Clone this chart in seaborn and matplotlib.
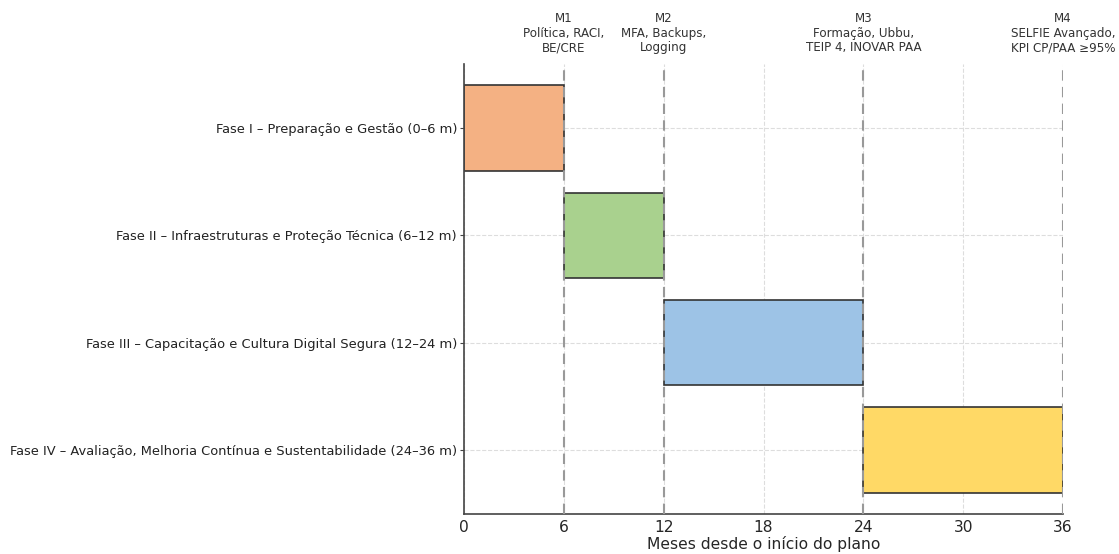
import seaborn as sns
import matplotlib.pyplot as plt
import matplotlib.transforms as transforms


phases = [
    'Fase I – Preparação e Gestão (0–6 m)',
    'Fase II – Infraestruturas e Proteção Técnica (6–12 m)',
    'Fase III – Capacitação e Cultura Digital Segura (12–24 m)',
    'Fase IV – Avaliação, Melhoria Contínua e Sustentabilidade (24–36 m)',
]
starts = [0, 6, 12, 24]
durations = [6, 6, 12, 12]
colors = ['#F4B183', '#A9D18E', '#9DC3E6', '#FFD966']

milestone_months = [6, 12, 24, 36]
milestone_labels = [
    'M1\nPolítica, RACI,\nBE/CRE',
    'M2\nMFA, Backups,\nLogging',
    'M3\nFormação, Ubbu,\nTEIP 4, INOVAR PAA',
    'M4\nSELFIE Avançado,\nKPI CP/PAA ≥95%',
]
xticks = [0, 6, 12, 18, 24, 30, 36]


sns.set_style('white')
plt.rcParams['font.family'] = ['DejaVu Sans']

f = plt.figure(figsize=(11.19, 5.54), dpi=100)
ax = f.add_axes([0.4147, 0.0722, 0.5353, 0.8123])

ypos = list(range(len(phases)))
ax.barh(ypos, durations, left=starts, height=0.8, color=colors,
        edgecolor='#333333', linewidth=1.2, zorder=2)

ax.set_ylim(3.6, -0.6)
ax.set_xlim(0, 36)
ax.set_yticks(ypos)
ax.set_yticklabels(phases, fontsize=9.4, color='#222222')
ax.set_xticks(xticks)
ax.tick_params(axis='x', labelsize=11.2, length=0, pad=4,
               color='#444444')
ax.tick_params(axis='y', length=3, pad=2, color='#444444', left=True)
ax.set_xlabel('Meses desde o início do plano', fontsize=11.2, labelpad=1)

ax.grid(True, linestyle='--', color='#dddddd', linewidth=0.8, zorder=0)
ax.set_axisbelow(True)

# milestones
trans = transforms.blended_transform_factory(ax.transData, ax.transAxes)
for month, label in zip(milestone_months, milestone_labels):
    ax.axvline(month, color='#999999', linestyle=(0, (5, 3)),
               linewidth=1.5, zorder=3)
    ax.text(month, 1.022, label, transform=trans, ha='center',
            va='bottom', fontsize=8.6, color='#333333', linespacing=1.15)

sns.despine(ax=ax)
for side in ['left', 'bottom']:
    ax.spines[side].set_color('#444444')
    ax.spines[side].set_linewidth(1.2)

f.savefig('out.png', dpi=100)
